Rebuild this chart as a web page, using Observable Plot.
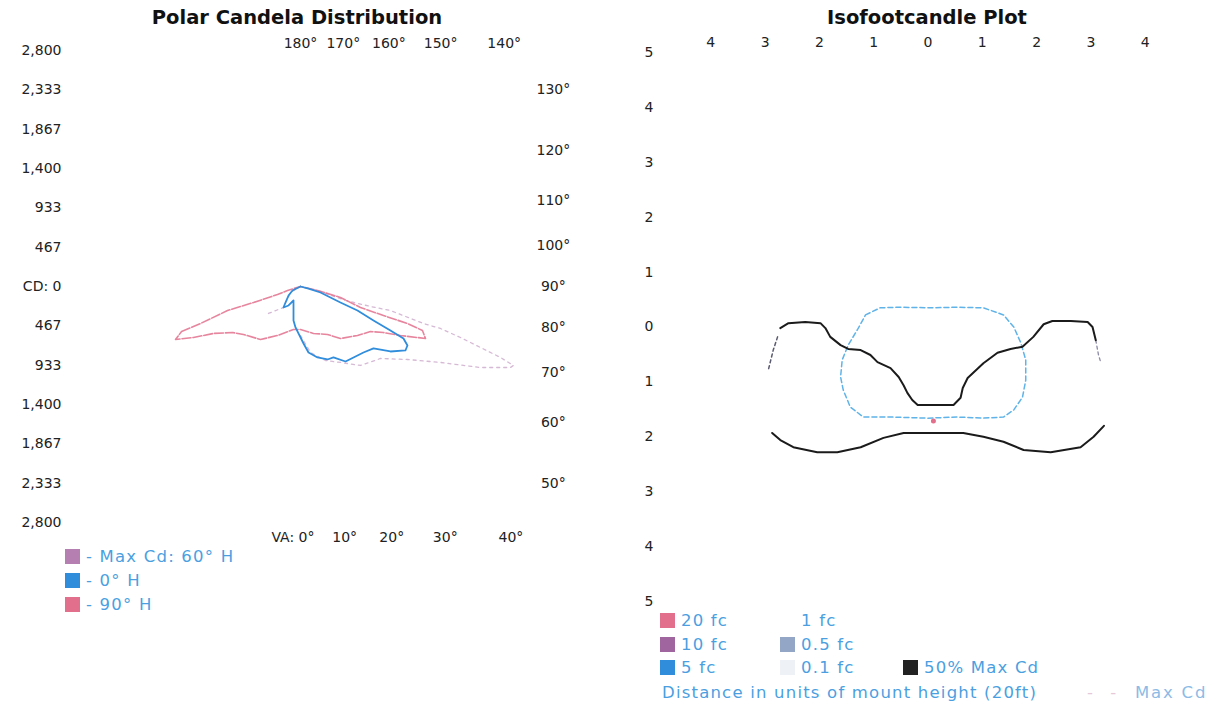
<!DOCTYPE html>
<html><head><meta charset="utf-8">
<script src="https://cdn.jsdelivr.net/npm/d3@7"></script>
<script src="https://cdn.jsdelivr.net/npm/@observablehq/plot@0.6"></script>
<style>
body{margin:0;background:#fff;}
#root{position:relative;width:1207px;height:707px;overflow:hidden;font-family:"DejaVu Sans",sans-serif;background:#fff;}
.title{position:absolute;top:6px;font-weight:bold;font-size:19.5px;color:#111;transform:translateX(-50%);white-space:nowrap;}
.panel{position:absolute;}
.leg{position:absolute;font-size:16.5px;letter-spacing:1.2px;color:#4b9fe1;white-space:nowrap;line-height:18px;}
.sw{display:inline-block;width:15px;height:15px;vertical-align:-2px;margin-right:6px;}
</style></head><body>
<div id="root">
  <div class="title" style="left:297px">Polar Candela Distribution</div>
  <div class="title" style="left:927px">Isofootcandle Plot</div>
  <div class="panel" id="left" style="left:0;top:30px"></div>
  <div class="panel" id="right" style="left:600px;top:30px"></div>
  <div id="legLeft"></div>
  <div id="legRight"></div>
</div>
<script>
// ---------- Polar Candela Distribution data ----------
// candela tick values (vertical axis, absolute values shown)
const cdTicks = [2800, 2333, 1867, 1400, 933, 467, 0, -467, -933, -1400, -1867, -2333, -2800];
// vertical-angle labels around the polar plot
const vaLabels = [180, 170, 160, 150, 140, 130, 120, 110, 100, 90, 80, 70, 60, 50, 40, 30, 20, 10, 0];
// curves: [horizontal cd component, vertical cd component]
const curve90H = [
  [-1411,-534],[-1186,-439],[-866,-285],[-557,-190],[-273,-95],[-154,-47],[0,0],[202,-47],
  [474,-130],[712,-249],[984,-344],[1269,-439],[1447,-522],[1483,-617],[1186,-581],[984,-546],
  [830,-534],[676,-581],[474,-617],[320,-569],[154,-557],[0,-510],[-83,-510],[-273,-581],
  [-474,-629],[-676,-569],[-806,-546],[-1032,-557],[-1269,-605],[-1483,-629],[-1411,-534]
];
const curve0H = [
  [0,0],[-95,-47],[-142,-107],[-178,-190],[-202,-249],[-142,-225],[-83,-166],[-83,-285],
  [-83,-403],[-59,-486],[-24,-557],[36,-676],[95,-783],[202,-842],[320,-866],[391,-842],
  [534,-890],[629,-842],[747,-783],[866,-735],[1067,-771],[1245,-759],[1269,-700],[1222,-617],
  [1067,-522],[866,-403],[676,-285],[474,-190],[237,-71],[95,-24],[0,0]
];
const curveMax60H = [
  [-380,-320],[-202,-249],[-119,-71],[0,0],[237,-59],[534,-166],[830,-237],[1067,-285],
  [1459,-439],[1660,-498],[1898,-605],[2135,-723],[2372,-842],[2526,-937],[2491,-961],
  [2135,-961],[1660,-901],[1269,-866],[949,-854],[712,-937],[474,-901],[297,-878],[119,-783],[0,-581]
];
const polarSeries = ["- Max Cd: 60° H", "- 0° H", "- 90° H"];
const polarColors = ["#b57fb2", "#2f8ddc", "#e2708c"];

// ---------- Isofootcandle data (units of mount height) ----------
const isoXTicks = [-4, -3, -2, -1, 0, 1, 2, 3, 4];
const isoYTicks = [5, 4, 3, 2, 1, 0, -1, -2, -3, -4, -5];
const maxCd50Upper = [
  [-2.72,-0.02],[-2.57,0.07],[-2.26,0.09],[-1.98,0.07],[-1.89,-0.02],[-1.80,-0.18],[-1.61,-0.33],
  [-1.47,-0.40],[-1.24,-0.42],[-1.06,-0.51],[-0.93,-0.64],[-0.69,-0.75],[-0.54,-0.91],[-0.45,-1.06],
  [-0.38,-1.20],[-0.29,-1.33],[-0.19,-1.42],[0.14,-1.42],[0.47,-1.42],[0.60,-1.29],[0.64,-1.11],
  [0.73,-0.93],[1.02,-0.66],[1.28,-0.47],[1.52,-0.40],[1.74,-0.36],[1.94,-0.18],[2.13,0.05],
  [2.29,0.11],[2.63,0.11],[2.94,0.09],[3.03,0.00],[3.09,-0.24]
];
const maxCd50LeftTail = [[-2.77,-0.18],[-2.85,-0.42],[-2.94,-0.78]];
const maxCd50RightTail = [[3.09,-0.24],[3.14,-0.51],[3.18,-0.64]];
const maxCd50Lower = [
  [-2.87,-1.93],[-2.72,-2.06],[-2.48,-2.19],[-2.04,-2.28],[-1.67,-2.28],[-1.24,-2.19],[-0.82,-2.02],
  [-0.45,-1.93],[-0.08,-1.93],[0.18,-1.93],[0.65,-1.93],[1.02,-2.00],[1.39,-2.09],[1.76,-2.24],
  [2.26,-2.28],[2.81,-2.19],[3.05,-2.00],[3.24,-1.80]
];
const fc1 = [
  [-1.15,0.22],[-0.88,0.35],[-0.51,0.36],[0.10,0.35],[0.54,0.36],[1.02,0.35],[1.39,0.22],[1.58,0.00],
  [1.71,-0.29],[1.80,-0.60],[1.80,-0.97],[1.74,-1.28],[1.58,-1.51],[1.39,-1.64],[1.02,-1.66],
  [0.54,-1.64],[0.00,-1.66],[-0.69,-1.64],[-1.19,-1.64],[-1.43,-1.46],[-1.56,-1.15],[-1.61,-0.91],
  [-1.58,-0.60],[-1.47,-0.33],[-1.30,-0.05],[-1.15,0.22]
];
const maxCdPoint = [[0.10,-1.71]];
const isoLegend = [
  ["20 fc", "#e2708c"], ["1 fc", "#ffffff"], [null, null],
  ["10 fc", "#a0649e"], ["0.5 fc", "#93a6c6"], [null, null],
  ["5 fc", "#2f8ddc"], ["0.1 fc", "#eef2f7"], ["50% Max Cd", "#222222"]
];

// ---------- Left: polar plot ----------
const k = 2800 / 236;          // candela per pixel
const LW = 600, LH = 520, LML = 66, LMT = 20, LMB = 28, LCX = 300;
const topR = 2880, botR = 2975, sideR = 3000, sideSquash = 0.93;
const rad = Math.PI / 180;
function vaPos(a) {
  if (a >= 135) return [topR * Math.tan((180 - a) * rad), topR];
  if (a <= 45) return [botR * Math.tan(a * rad), -botR];
  return [sideR, sideR * Math.tan((a - 90) * rad) * sideSquash];
}
const vaData = vaLabels.map(a => ({a, p: vaPos(a), t: a === 0 ? "VA: 0°" : a + "°"}));
const px = d => d[0], py = d => d[1];

const leftPlot = Plot.plot({
  width: LW, height: LH, marginLeft: LML, marginRight: 0, marginTop: LMT, marginBottom: LMB,
  x: {domain: [-(LCX - LML) * k, (LW - LCX) * k], axis: null},
  y: {domain: [-2800, 2800]},
  style: {fontFamily: "DejaVu Sans", fontSize: "14px", color: "#222", background: "transparent"},
  marks: [
    Plot.axisY({ticks: cdTicks, anchor: "left", tickSize: 0, tickPadding: 5, label: null, fontSize: 14,
      tickFormat: v => v === 0 ? "CD: 0" : d3.format(",")(Math.abs(v))}),
    Plot.line(curveMax60H, {x: px, y: py, stroke: polarColors[0], strokeOpacity: 0.55, strokeWidth: 1.3, strokeDasharray: "3,4"}),
    Plot.line(curve90H, {x: px, y: py, stroke: polarColors[2], strokeOpacity: 0.85, strokeWidth: 1.6, strokeDasharray: "9,2"}),
    Plot.line(curve0H, {x: px, y: py, stroke: polarColors[1], strokeWidth: 1.8}),
    Plot.text(vaData.filter(d => d.a !== 0), {x: d => d.p[0], y: d => d.p[1], text: "t", fontSize: 14, fill: "#222"}),
    Plot.text(vaData.filter(d => d.a === 0), {x: d => d.p[0], y: d => d.p[1], text: "t", fontSize: 14, fill: "#222", textAnchor: "end", dx: 14})
  ]
});
document.getElementById("left").appendChild(leftPlot);

// ---------- Right: isofootcandle plot ----------
const rightPlot = Plot.plot({
  width: 607, height: 581, marginLeft: 56, marginRight: 8, marginTop: 22, marginBottom: 10,
  x: {domain: [-5, 5]},
  y: {domain: [-5, 5]},
  style: {fontFamily: "DejaVu Sans", fontSize: "14px", color: "#222", background: "transparent"},
  marks: [
    Plot.axisX({ticks: isoXTicks, anchor: "top", tickSize: 0, tickPadding: 6, label: null, fontSize: 14, tickFormat: v => Math.abs(v)}),
    Plot.axisY({ticks: isoYTicks, anchor: "left", tickSize: 0, tickPadding: 3, label: null, fontSize: 14, tickFormat: v => Math.abs(v)}),
    Plot.line(fc1, {x: px, y: py, stroke: "#5fb3e8", strokeWidth: 1.5, strokeDasharray: "5,3"}),
    Plot.line(maxCd50LeftTail, {x: px, y: py, stroke: "#5a5a70", strokeWidth: 1.5, strokeDasharray: "3,3"}),
    Plot.line(maxCd50RightTail, {x: px, y: py, stroke: "#8a8aa8", strokeWidth: 1.3, strokeDasharray: "3,3"}),
    Plot.line(maxCd50Upper, {x: px, y: py, stroke: "#1b1b1b", strokeWidth: 2}),
    Plot.line(maxCd50Lower, {x: px, y: py, stroke: "#1b1b1b", strokeWidth: 2}),
    Plot.dot(maxCdPoint, {x: px, y: py, r: 2.5, fill: "#e2708c", stroke: "none"})
  ]
});
document.getElementById("right").appendChild(rightPlot);

// ---------- Legends (HTML below the plots) ----------
const legL = document.getElementById("legLeft");
polarSeries.forEach((s, i) => {
  const d = document.createElement("div");
  d.className = "leg";
  d.style.left = "65px";
  d.style.top = (548 + i * 24) + "px";
  d.innerHTML = `<span class="sw" style="background:${polarColors[i]}"></span>${s}`;
  legL.appendChild(d);
});
const legR = document.getElementById("legRight");
const colX = [660, 780, 903];
isoLegend.forEach((e, i) => {
  if (!e[0]) return;
  const d = document.createElement("div");
  d.className = "leg";
  d.style.left = colX[i % 3] + "px";
  d.style.top = (612 + Math.floor(i / 3) * 23.5) + "px";
  d.innerHTML = `<span class="sw" style="background:${e[1]}"></span>${e[0]}`;
  legR.appendChild(d);
});
const dist = document.createElement("div");
dist.className = "leg"; dist.style.left = "662px"; dist.style.top = "684px";
dist.textContent = "Distance in units of mount height (20ft)";
legR.appendChild(dist);
const mc = document.createElement("div");
mc.className = "leg"; mc.style.left = "1087px"; mc.style.top = "684px";
mc.innerHTML = `<span style="color:#e6c8d8;letter-spacing:6px">- -</span>&nbsp;&nbsp;<span style="color:#8cbbe6;letter-spacing:1.8px">Max Cd</span>`;
legR.appendChild(mc);
</script>
</body></html>
